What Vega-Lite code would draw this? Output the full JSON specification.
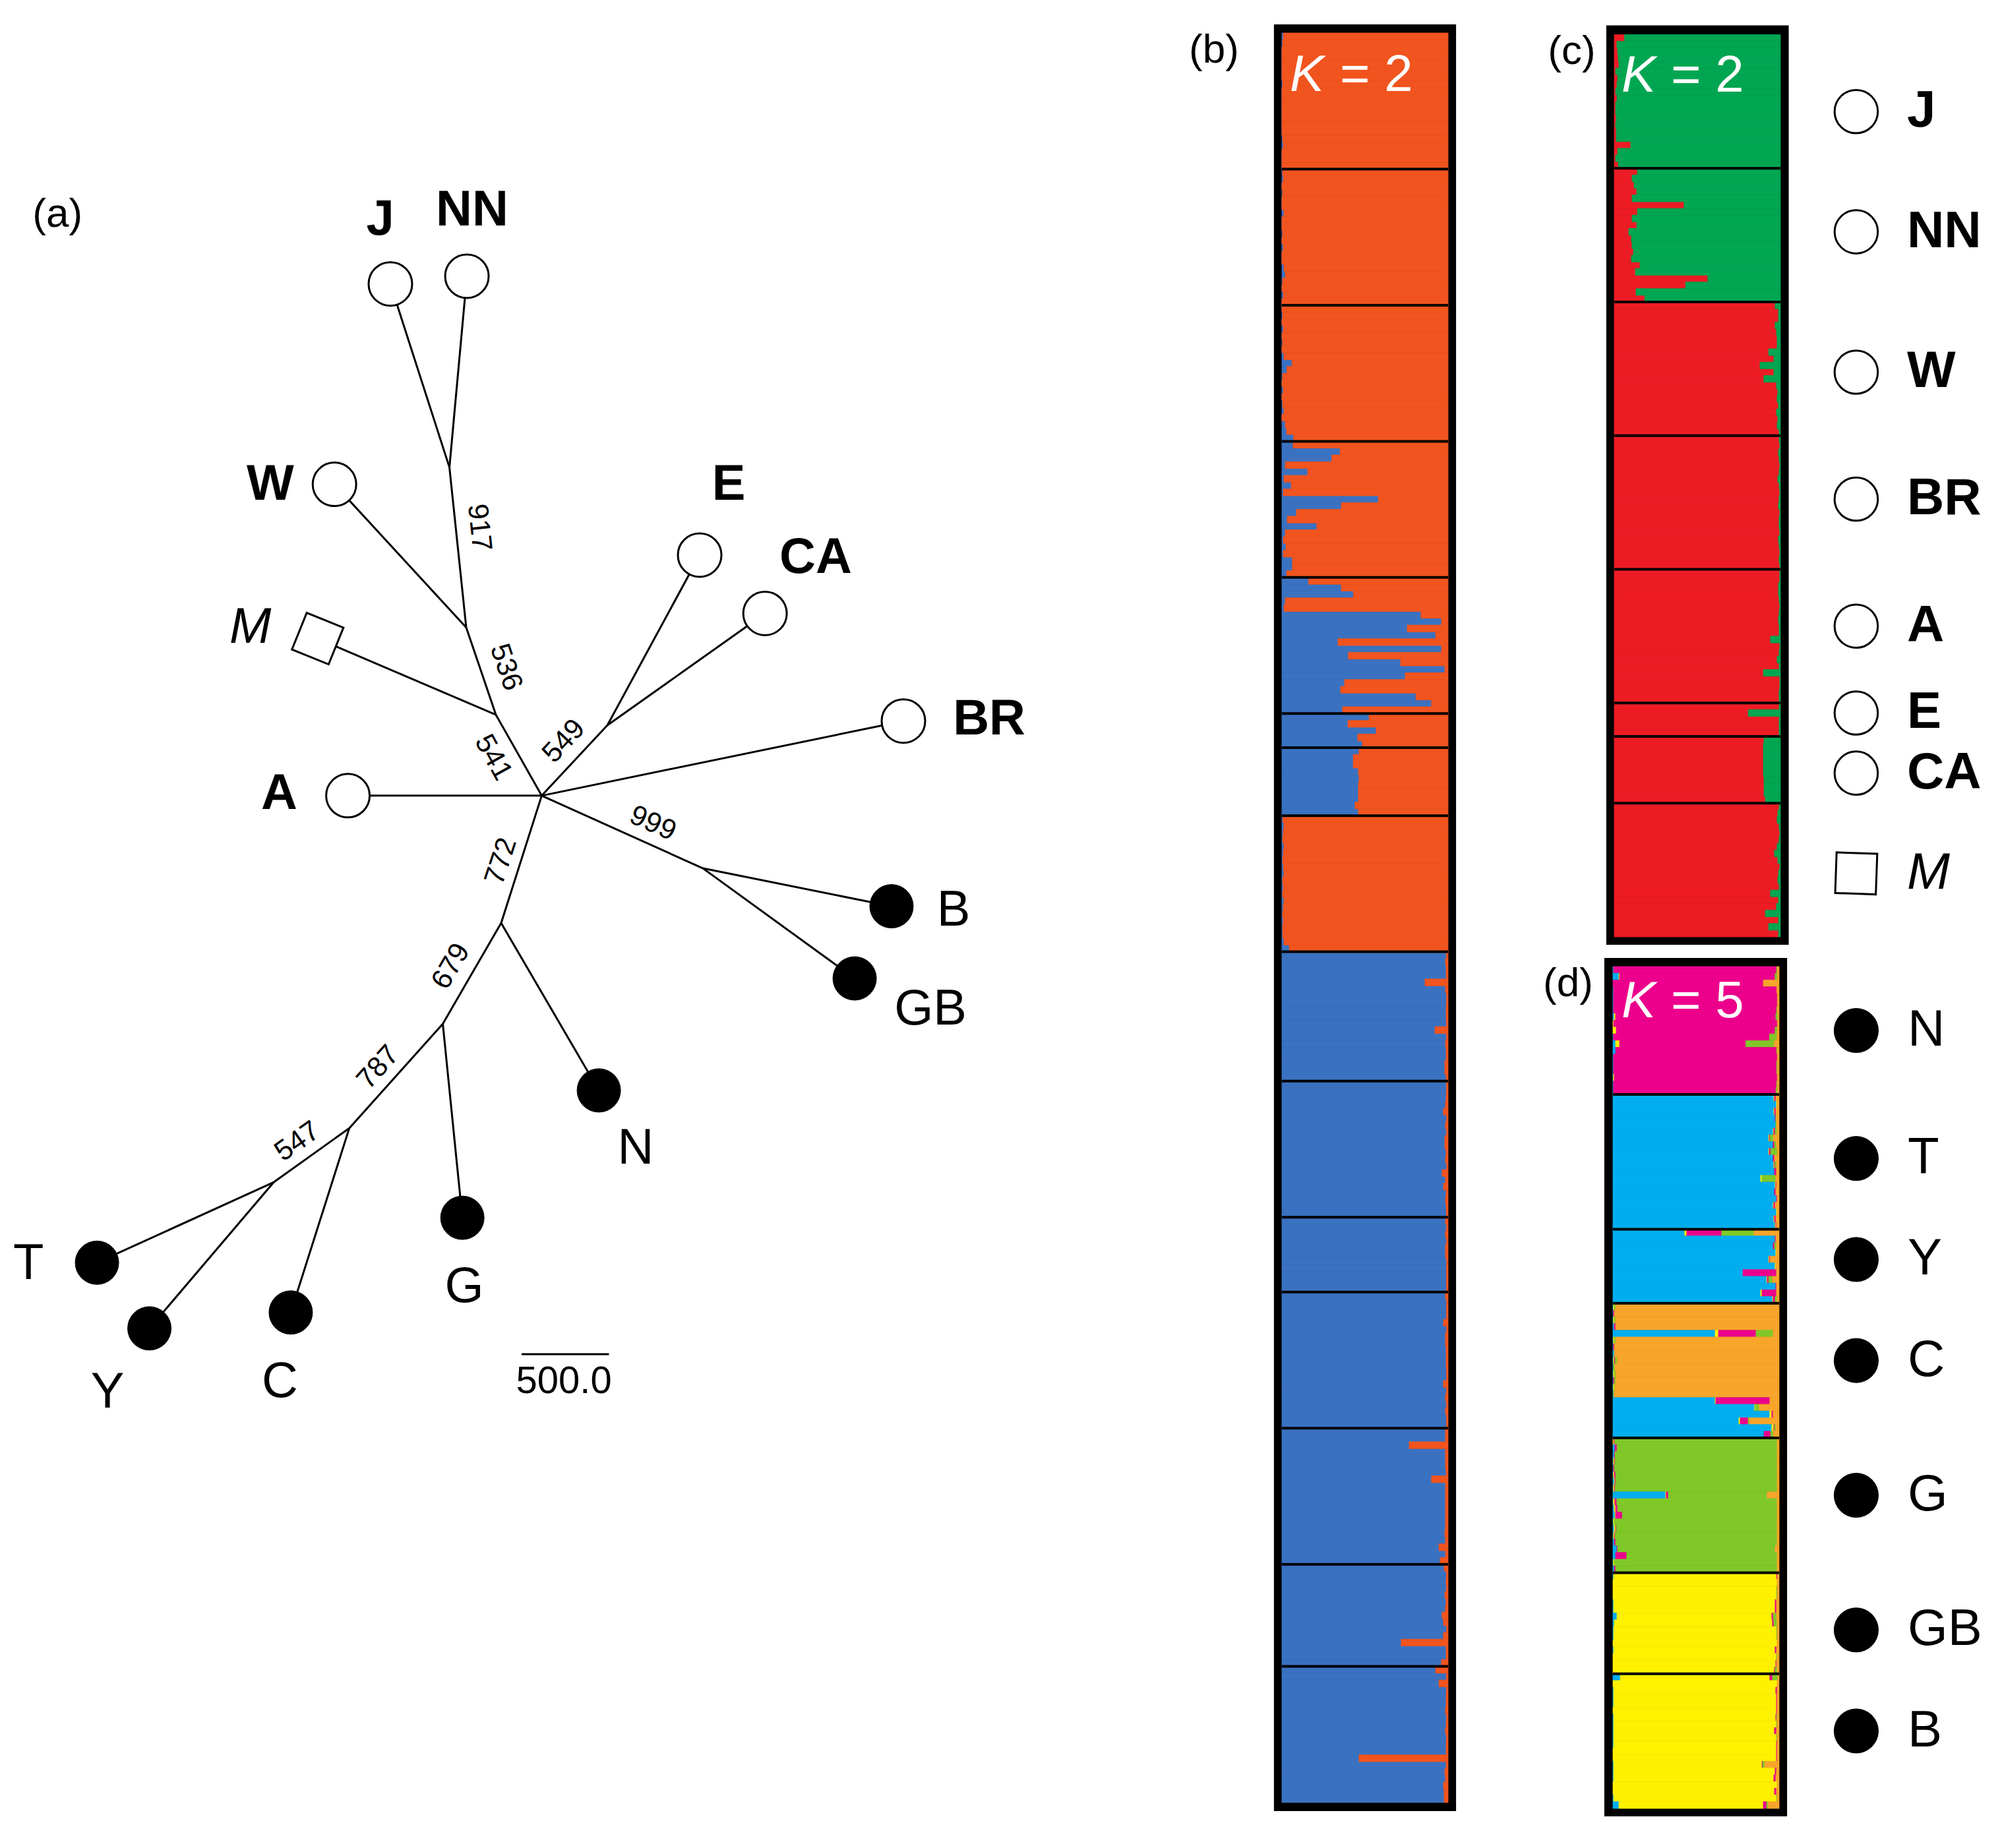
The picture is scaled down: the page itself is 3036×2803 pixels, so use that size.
{
"$schema":"https://vega.github.io/schema/vega-lite/v6.json",
"width":3036,"height":2803,"autosize":{"type":"none"},"padding":0,"background":"white",
"config":{"view":{"stroke":null},"axis":{"disable":true},"legend":{"disable":true},"font":"Liberation Sans"},
"datasets":{
"edges":[
{"u":-866,"v":2929,"u2":-528,"v2":1879},{"u":-428,"v":2973,"u2":-528,"v2":1879},{"u":-528,"v":1879,"u2":-432,"v2":963},{"u":-1186,"v":1782,"u2":-432,"v2":963},
{"u":-432,"v":963,"u2":-262,"v2":463},{"u":-1282,"v":899,"u2":-262,"v2":463},{"u":-262,"v":463,"u2":0,"v2":0},{"u":-1109,"v":0,"u2":0,"v2":0},
{"u":0,"v":0,"u2":376,"v2":403},{"u":904,"v":1377,"u2":376,"v2":403},{"u":1278,"v":1043,"u2":376,"v2":403},{"u":2070,"v":427,"u2":0,"v2":0},
{"u":0,"v":0,"u2":923,"v2":-416},{"u":2002,"v":-633,"u2":923,"v2":-416},{"u":1791,"v":-1046,"u2":923,"v2":-416},{"u":0,"v":0,"u2":-232,"v2":-729},
{"u":-232,"v":-729,"u2":327,"v2":-1687},{"u":-232,"v":-729,"u2":-566,"v2":-1306},{"u":-566,"v":-1306,"u2":-454,"v2":-2416},{"u":-566,"v":-1306,"u2":-1101,"v2":-1903},
{"u":-1101,"v":-1903,"u2":-1436,"v2":-2958},{"u":-1101,"v":-1903,"u2":-1533,"v2":-2212},{"u":-1533,"v":-2212,"u2":-2545,"v2":-2673},{"u":-1533,"v":-2212,"u2":-2245,"v2":-3049}
],
"tips":[
{"pop":"J","u":-866,"v":2929,"clade":"I"},{"pop":"NN","u":-428,"v":2973,"clade":"I"},{"pop":"W","u":-1186,"v":1782,"clade":"I"},{"pop":"M","u":-1282,"v":899,"clade":"out"},
{"pop":"A","u":-1109,"v":0,"clade":"I"},{"pop":"E","u":904,"v":1377,"clade":"I"},{"pop":"CA","u":1278,"v":1043,"clade":"I"},{"pop":"BR","u":2070,"v":427,"clade":"I"},
{"pop":"B","u":2002,"v":-633,"clade":"II"},{"pop":"GB","u":1791,"v":-1046,"clade":"II"},{"pop":"N","u":327,"v":-1687,"clade":"II"},{"pop":"G","u":-454,"v":-2416,"clade":"II"},
{"pop":"C","u":-1436,"v":-2958,"clade":"II"},{"pop":"T","u":-2545,"v":-2673,"clade":"II"},{"pop":"Y","u":-2245,"v":-3049,"clade":"II"}
],
"labels":[
{"pop":"J","u":-924,"v":3297,"clade":"I"},{"pop":"NN","u":-398,"v":3350,"clade":"I"},{"pop":"W","u":-1553,"v":1781,"clade":"I"},{"pop":"E","u":1070,"v":1781,"clade":"I"},
{"pop":"CA","u":1568,"v":1362,"clade":"I"},{"pop":"M","u":-1667,"v":963,"clade":"out"},{"pop":"BR","u":2561,"v":438,"clade":"I"},{"pop":"A","u":-1502,"v":10,"clade":"I"},
{"pop":"B","u":2357,"v":-657,"clade":"II"},{"pop":"GB","u":2225,"v":-1223,"clade":"II"},{"pop":"N","u":538,"v":-2020,"clade":"II"},{"pop":"G","u":-443,"v":-2812,"clade":"II"},
{"pop":"T","u":-2937,"v":-2680,"clade":"II"},{"pop":"Y","u":-2485,"v":-3415,"clade":"II"},{"pop":"C","u":-1498,"v":-3355,"clade":"II"}
],
"boot":[
{"b":"917","u":-358,"v":1535},{"b":"536","u":-205,"v":735},{"b":"541","u":-277,"v":218},{"b":"549","u":127,"v":312},{"b":"999","u":636,"v":-159},
{"b":"772","u":-232,"v":-375},{"b":"679","u":-519,"v":-977},{"b":"787","u":-935,"v":-1555},{"b":"547","u":-1398,"v":-1980}
],
"bsep":[{"at":21},{"at":41},{"at":61},{"at":81},{"at":101},{"at":106},{"at":116},{"at":136},{"at":155},{"at":175},{"at":186},{"at":206},{"at":226},{"at":241}],
"csep":[{"at":21},{"at":41},{"at":61},{"at":81},{"at":101},{"at":106},{"at":116}],
"dsep":[{"at":20},{"at":40},{"at":51},{"at":71},{"at":91},{"at":106}],
"cleg":[{"pop":"J","at":12},{"pop":"NN","at":30},{"pop":"W","at":51},{"pop":"BR","at":70},{"pop":"A","at":89},{"pop":"E","at":102},{"pop":"CA","at":111},{"pop":"M","at":126}],
"dleg":[{"pop":"N","at":10},{"pop":"T","at":29},{"pop":"Y","at":44},{"pop":"C","at":59},{"pop":"G","at":79},{"pop":"GB","at":99},{"pop":"B","at":114}],
"b":[
{"i":1,"q":0.008},{"i":2,"q":0.004},{"i":3,"q":0},{"i":4,"q":0},{"i":5,"q":0},{"i":6,"q":0},{"i":7,"q":0},{"i":8,"q":0.004},{"i":9,"q":0},{"i":10,"q":0},
{"i":11,"q":0},{"i":12,"q":0},{"i":13,"q":0},{"i":14,"q":0},{"i":15,"q":0},{"i":16,"q":0.004},{"i":17,"q":0.008},{"i":18,"q":0},{"i":19,"q":0},{"i":20,"q":0},
{"i":21,"q":0.004},{"i":22,"q":0.008},{"i":23,"q":0},{"i":24,"q":0.004},{"i":25,"q":0},{"i":26,"q":0},{"i":27,"q":0.012},{"i":28,"q":0},{"i":29,"q":0},{"i":30,"q":0.004},
{"i":31,"q":0},{"i":32,"q":0.008},{"i":33,"q":0},{"i":34,"q":0},{"i":35,"q":0.012},{"i":36,"q":0.02},{"i":37,"q":0.004},{"i":38,"q":0},{"i":39,"q":0.008},{"i":40,"q":0},
{"i":41,"q":0},{"i":42,"q":0.004},{"i":43,"q":0},{"i":44,"q":0.008},{"i":45,"q":0},{"i":46,"q":0.004},{"i":47,"q":0},{"i":48,"q":0.012},{"i":49,"q":0.06},{"i":50,"q":0.03},
{"i":51,"q":0.004},{"i":52,"q":0},{"i":53,"q":0.008},{"i":54,"q":0},{"i":55,"q":0.004},{"i":56,"q":0.012},{"i":57,"q":0},{"i":58,"q":0.02},{"i":59,"q":0.028},{"i":60,"q":0.07},
{"i":61,"q":0.067},{"i":62,"q":0.35},{"i":63,"q":0.3},{"i":64,"q":0.02},{"i":65,"q":0.155},{"i":66,"q":0.012},{"i":67,"q":0.056},{"i":68,"q":0.008},{"i":69,"q":0.58},{"i":70,"q":0.357},
{"i":71,"q":0.087},{"i":72,"q":0.032},{"i":73,"q":0.21},{"i":74,"q":0.02},{"i":75,"q":0.008},{"i":76,"q":0.024},{"i":77,"q":0.008},{"i":78,"q":0.063},{"i":79,"q":0.063},{"i":80,"q":0.028},
{"i":81,"q":0.16},{"i":82,"q":0.357},{"i":83,"q":0.43},{"i":84,"q":0.02},{"i":85,"q":0.012},{"i":86,"q":0.837},{"i":87,"q":0.96},{"i":88,"q":0.754},{"i":89,"q":0.925},{"i":90,"q":0.337},
{"i":91,"q":0.96},{"i":92,"q":0.4},{"i":93,"q":0.714},{"i":94,"q":0.98},{"i":95,"q":0.742},{"i":96,"q":0.377},{"i":97,"q":0.353},{"i":98,"q":0.806},{"i":99,"q":0.9},{"i":100,"q":0.365},
{"i":101,"q":0.524},{"i":102,"q":0.397},{"i":103,"q":0.567},{"i":104,"q":0.456},{"i":105,"q":0.484},
{"i":106,"q":0.464},{"i":107,"q":0.429},{"i":108,"q":0.429},{"i":109,"q":0.46},{"i":110,"q":0.464},{"i":111,"q":0.46},{"i":112,"q":0.46},{"i":113,"q":0.46},{"i":114,"q":0.44},{"i":115,"q":0.46},
{"i":116,"q":0.005},{"i":117,"q":0.012},{"i":118,"q":0.008},{"i":119,"q":0.004},{"i":120,"q":0.012},{"i":121,"q":0.008},{"i":122,"q":0.004},{"i":123,"q":0.008},{"i":124,"q":0.012},{"i":125,"q":0.004},
{"i":126,"q":0.008},{"i":127,"q":0.004},{"i":128,"q":0.012},{"i":129,"q":0.008},{"i":130,"q":0.004},{"i":131,"q":0.008},{"i":132,"q":0.004},{"i":133,"q":0.005},{"i":134,"q":0.012},{"i":135,"q":0.044},
{"i":136,"q":0.989},{"i":137,"q":0.984},{"i":138,"q":0.988},{"i":139,"q":0.988},{"i":140,"q":0.861},{"i":141,"q":0.984},{"i":142,"q":0.99},{"i":143,"q":0.99},{"i":144,"q":0.988},{"i":145,"q":0.988},
{"i":146,"q":0.99},{"i":147,"q":0.921},{"i":148,"q":0.99},{"i":149,"q":0.984},{"i":150,"q":0.988},{"i":151,"q":0.988},{"i":152,"q":0.98},{"i":153,"q":0.98},{"i":154,"q":0.988},
{"i":155,"q":0.99},{"i":156,"q":0.99},{"i":157,"q":0.988},{"i":158,"q":0.984},{"i":159,"q":0.972},{"i":160,"q":0.99},{"i":161,"q":0.984},{"i":162,"q":0.99},{"i":163,"q":0.98},{"i":164,"q":0.98},
{"i":165,"q":0.988},{"i":166,"q":0.984},{"i":167,"q":0.99},{"i":168,"q":0.964},{"i":169,"q":0.984},{"i":170,"q":0.972},{"i":171,"q":0.988},{"i":172,"q":0.984},{"i":173,"q":0.988},{"i":174,"q":0.99},
{"i":175,"q":0.984},{"i":176,"q":0.99},{"i":177,"q":0.984},{"i":178,"q":0.99},{"i":179,"q":0.984},{"i":180,"q":0.984},{"i":181,"q":0.99},{"i":182,"q":0.99},{"i":183,"q":0.99},{"i":184,"q":0.99},{"i":185,"q":0.99},
{"i":186,"q":0.984},{"i":187,"q":0.99},{"i":188,"q":0.99},{"i":189,"q":0.99},{"i":190,"q":0.972},{"i":191,"q":0.99},{"i":192,"q":0.984},{"i":193,"q":0.984},{"i":194,"q":0.988},{"i":195,"q":0.988},
{"i":196,"q":0.988},{"i":197,"q":0.99},{"i":198,"q":0.99},{"i":199,"q":0.972},{"i":200,"q":0.99},{"i":201,"q":0.984},{"i":202,"q":0.99},{"i":203,"q":0.984},{"i":204,"q":0.99},{"i":205,"q":0.99},
{"i":206,"q":0.984},{"i":207,"q":0.984},{"i":208,"q":0.766},{"i":209,"q":0.984},{"i":210,"q":0.984},{"i":211,"q":0.984},{"i":212,"q":0.988},{"i":213,"q":0.9},{"i":214,"q":0.984},{"i":215,"q":0.984},
{"i":216,"q":0.984},{"i":217,"q":0.984},{"i":218,"q":0.984},{"i":219,"q":0.984},{"i":220,"q":0.984},{"i":221,"q":0.98},{"i":222,"q":0.984},{"i":223,"q":0.945},{"i":224,"q":0.984},{"i":225,"q":0.952},
{"i":226,"q":0.976},{"i":227,"q":0.99},{"i":228,"q":0.988},{"i":229,"q":0.99},{"i":230,"q":0.98},{"i":231,"q":0.988},{"i":232,"q":0.984},{"i":233,"q":0.964},{"i":234,"q":0.972},{"i":235,"q":0.99},
{"i":236,"q":0.972},{"i":237,"q":0.718},{"i":238,"q":0.988},{"i":239,"q":0.988},{"i":240,"q":0.96},
{"i":241,"q":0.925},{"i":242,"q":0.99},{"i":243,"q":0.945},{"i":244,"q":0.99},{"i":245,"q":0.988},{"i":246,"q":0.988},{"i":247,"q":0.984},{"i":248,"q":0.99},{"i":249,"q":0.988},{"i":250,"q":0.984},
{"i":251,"q":0.99},{"i":252,"q":0.988},{"i":253,"q":0.988},{"i":254,"q":0.464},{"i":255,"q":0.988},{"i":256,"q":0.98},{"i":257,"q":0.984},{"i":258,"q":0.972},{"i":259,"q":0.976},{"i":260,"q":0.976}
],
"c":[
{"i":1,"q":0.062},{"i":2,"q":0.016},{"i":3,"q":0.02},{"i":4,"q":0.024},{"i":5,"q":0.028},{"i":6,"q":0.008},{"i":7,"q":0.02},{"i":8,"q":0.016},{"i":9,"q":0.008},{"i":10,"q":0.016},
{"i":11,"q":0.008},{"i":12,"q":0.008},{"i":13,"q":0.012},{"i":14,"q":0.008},{"i":15,"q":0.012},{"i":16,"q":0.012},{"i":17,"q":0.099},{"i":18,"q":0.02},{"i":19,"q":0.008},{"i":20,"q":0.024},
{"i":21,"q":0.139},{"i":22,"q":0.107},{"i":23,"q":0.119},{"i":24,"q":0.135},{"i":25,"q":0.107},{"i":26,"q":0.42},{"i":27,"q":0.139},{"i":28,"q":0.107},{"i":29,"q":0.135},{"i":30,"q":0.087},
{"i":31,"q":0.103},{"i":32,"q":0.107},{"i":33,"q":0.115},{"i":34,"q":0.103},{"i":35,"q":0.155},{"i":36,"q":0.127},{"i":37,"q":0.563},{"i":38,"q":0.429},{"i":39,"q":0.131},{"i":40,"q":0.183},
{"i":41,"q":0.968},{"i":42,"q":0.988},{"i":43,"q":0.988},{"i":44,"q":0.968},{"i":45,"q":0.976},{"i":46,"q":0.98},{"i":47,"q":0.98},{"i":48,"q":0.929},{"i":49,"q":0.96},{"i":50,"q":0.877},
{"i":51,"q":0.96},{"i":52,"q":0.9},{"i":53,"q":0.976},{"i":54,"q":0.984},{"i":55,"q":0.98},{"i":56,"q":0.988},{"i":57,"q":0.976},{"i":58,"q":0.984},{"i":59,"q":0.98},{"i":60,"q":0.992},
{"i":61,"q":0.992},{"i":62,"q":0.996},{"i":63,"q":0.988},{"i":64,"q":0.992},{"i":65,"q":0.996},{"i":66,"q":0.992},{"i":67,"q":0.984},{"i":68,"q":0.992},{"i":69,"q":0.996},{"i":70,"q":0.992},
{"i":71,"q":0.988},{"i":72,"q":0.996},{"i":73,"q":0.992},{"i":74,"q":0.992},{"i":75,"q":0.996},{"i":76,"q":0.988},{"i":77,"q":0.992},{"i":78,"q":0.996},{"i":79,"q":0.992},{"i":80,"q":0.996},
{"i":81,"q":0.996},{"i":82,"q":0.996},{"i":83,"q":0.988},{"i":84,"q":0.988},{"i":85,"q":0.992},{"i":86,"q":0.996},{"i":87,"q":0.992},{"i":88,"q":0.988},{"i":89,"q":0.992},{"i":90,"q":0.992},
{"i":91,"q":0.94},{"i":92,"q":0.996},{"i":93,"q":0.992},{"i":94,"q":0.98},{"i":95,"q":0.992},{"i":96,"q":0.897},{"i":97,"q":0.996},{"i":98,"q":0.996},{"i":99,"q":0.992},{"i":100,"q":0.992},
{"i":101,"q":0.992},{"i":102,"q":0.806},{"i":103,"q":0.992},{"i":104,"q":0.992},{"i":105,"q":0.992},
{"i":106,"q":0.901},{"i":107,"q":0.897},{"i":108,"q":0.897},{"i":109,"q":0.897},{"i":110,"q":0.897},{"i":111,"q":0.897},{"i":112,"q":0.901},{"i":113,"q":0.901},{"i":114,"q":0.901},{"i":115,"q":0.909},
{"i":116,"q":0.992},{"i":117,"q":0.984},{"i":118,"q":0.98},{"i":119,"q":0.992},{"i":120,"q":0.996},{"i":121,"q":0.992},{"i":122,"q":0.98},{"i":123,"q":0.964},{"i":124,"q":0.984},{"i":125,"q":0.996},
{"i":126,"q":0.988},{"i":127,"q":0.984},{"i":128,"q":0.992},{"i":129,"q":0.94},{"i":130,"q":0.988},{"i":131,"q":0.976},{"i":132,"q":0.909},{"i":133,"q":0.988},{"i":134,"q":0.929},{"i":135,"q":0.988}
],
"d":[
{"i":1,"k1":0.004,"k3":0.981,"k4":0.004,"k5":0.011},{"i":2,"k1":0.036,"k2":0.004,"k3":0.936,"k4":0.013,"k5":0.011},{"i":3,"k3":0.905,"k5":0.095},{"i":4,"k1":0.003,"k3":0.983,"k5":0.014},
{"i":5,"k1":0.003,"k3":0.986,"k5":0.011},{"i":6,"k1":0.003,"k3":0.986,"k5":0.011},{"i":7,"k1":0.003,"k3":0.982,"k4":0.004,"k5":0.011},{"i":8,"k1":0.008,"k2":0.008,"k3":0.964,"k4":0.013,"k5":0.007},
{"i":9,"k2":0.004,"k3":0.985,"k5":0.011},{"i":10,"k2":0.02,"k3":0.956,"k4":0.013,"k5":0.011},{"i":11,"k1":0.003,"k3":0.939,"k4":0.045,"k5":0.013},{"i":12,"k1":0.016,"k2":0.024,"k3":0.76,"k4":0.171,"k5":0.029},
{"i":13,"k1":0.016,"k3":0.969,"k4":0.004,"k5":0.011},{"i":14,"k1":0.003,"k3":0.986,"k5":0.011},{"i":15,"k1":0.003,"k3":0.982,"k4":0.004,"k5":0.011},{"i":16,"k1":0.003,"k3":0.982,"k4":0.004,"k5":0.011},
{"i":17,"k1":0.003,"k2":0.005,"k3":0.981,"k5":0.011},{"i":18,"k1":0.003,"k3":0.982,"k4":0.004,"k5":0.011},{"i":19,"k1":0.003,"k3":0.978,"k4":0.008,"k5":0.011},
{"i":20,"k1":0.968,"k2":0.004,"k3":0.008,"k5":0.02},{"i":21,"k1":0.984,"k2":0.004,"k5":0.012},{"i":22,"k1":0.968,"k2":0.004,"k3":0.008,"k5":0.02},{"i":23,"k1":0.976,"k3":0.004,"k4":0.004,"k5":0.016},
{"i":24,"k1":0.98,"k4":0.004,"k5":0.016},{"i":25,"k1":0.964,"k2":0.004,"k3":0.008,"k4":0.012,"k5":0.012},{"i":26,"k1":0.937,"k2":0.004,"k3":0.004,"k4":0.02,"k5":0.035},{"i":27,"k1":0.964,"k3":0.008,"k4":0.012,"k5":0.016},
{"i":28,"k1":0.937,"k2":0.004,"k3":0.008,"k4":0.04,"k5":0.011},{"i":29,"k1":0.964,"k3":0.008,"k5":0.028},{"i":30,"k1":0.968,"k2":0.004,"k3":0.004,"k4":0.008,"k5":0.016},{"i":31,"k1":0.972,"k3":0.012,"k5":0.016},
{"i":32,"k1":0.889,"k2":0.008,"k4":0.083,"k5":0.02},{"i":33,"k1":0.976,"k2":0.004,"k3":0.004,"k5":0.016},{"i":34,"k1":0.972,"k3":0.008,"k5":0.02},{"i":35,"k1":0.984,"k3":0.004,"k5":0.012},
{"i":36,"k1":0.964,"k2":0.004,"k3":0.008,"k5":0.024},{"i":37,"k1":0.984,"k2":0.004,"k5":0.012},{"i":38,"k1":0.968,"k2":0.004,"k3":0.008,"k5":0.02},{"i":39,"k1":0.976,"k2":0.004,"k3":0.004,"k5":0.016},
{"i":40,"k1":0.432,"k2":0.012,"k3":0.21,"k4":0.194,"k5":0.152},{"i":41,"k1":0.976,"k3":0.004,"k5":0.02},{"i":42,"k1":0.964,"k3":0.008,"k4":0.012,"k5":0.016},{"i":43,"k1":0.98,"k2":0.004,"k5":0.016},
{"i":44,"k1":0.937,"k2":0.004,"k3":0.004,"k5":0.055},{"i":45,"k1":0.976,"k2":0.004,"k5":0.02},{"i":46,"k1":0.782,"k3":0.202,"k5":0.016},{"i":47,"k1":0.925,"k2":0.004,"k3":0.008,"k4":0.024,"k5":0.039},
{"i":48,"k1":0.98,"k3":0.004,"k5":0.016},{"i":49,"k1":0.889,"k2":0.008,"k3":0.087,"k5":0.016},{"i":50,"k1":0.96,"k2":0.004,"k3":0.012,"k4":0.012,"k5":0.012},
{"i":51,"k1":0.003,"k2":0.005,"k4":0.008,"k5":0.984},{"i":52,"k1":0.003,"k3":0.005,"k5":0.992},{"i":53,"k1":0.003,"k2":0.005,"k4":0.008,"k5":0.984},{"i":54,"k1":0.008,"k3":0.008,"k5":0.984},
{"i":55,"k1":0.615,"k2":0.02,"k3":0.226,"k4":0.103,"k5":0.036},{"i":56,"k1":0.003,"k2":0.005,"k4":0.008,"k5":0.984},{"i":57,"k1":0.003,"k3":0.005,"k5":0.992},{"i":58,"k1":0.008,"k5":0.992},
{"i":59,"k1":0.003,"k2":0.005,"k3":0.005,"k4":0.012,"k5":0.975},{"i":60,"k1":0.003,"k4":0.008,"k5":0.989},{"i":61,"k1":0.003,"k2":0.005,"k4":0.008,"k5":0.984},{"i":62,"k1":0.003,"k3":0.005,"k4":0.008,"k5":0.984},
{"i":63,"k1":0.003,"k2":0.005,"k4":0.004,"k5":0.988},{"i":64,"k1":0.003,"k4":0.004,"k5":0.993},{"i":65,"k1":0.615,"k2":0.004,"k3":0.325,"k5":0.056},{"i":66,"k1":0.853,"k2":0.004,"k4":0.024,"k5":0.119},
{"i":67,"k1":0.944,"k2":0.012,"k3":0.008,"k5":0.036},{"i":68,"k1":0.758,"k2":0.008,"k3":0.048,"k4":0.008,"k5":0.178},{"i":69,"k1":0.956,"k2":0.012,"k3":0.004,"k4":0.008,"k5":0.02},{"i":70,"k1":0.909,"k3":0.04,"k4":0.016,"k5":0.035},
{"i":71,"k2":0.005,"k3":0.004,"k4":0.979,"k5":0.012},{"i":72,"k1":0.012,"k3":0.012,"k4":0.964,"k5":0.012},{"i":73,"k1":0.008,"k3":0.004,"k4":0.976,"k5":0.012},{"i":74,"k1":0.003,"k2":0.005,"k3":0.004,"k4":0.976,"k5":0.012},
{"i":75,"k1":0.003,"k3":0.005,"k4":0.98,"k5":0.012},{"i":76,"k1":0.003,"k2":0.005,"k3":0.008,"k4":0.972,"k5":0.012},{"i":77,"k1":0.008,"k2":0.004,"k3":0.004,"k4":0.972,"k5":0.012},{"i":78,"k1":0.003,"k2":0.005,"k3":0.004,"k4":0.976,"k5":0.012},
{"i":79,"k1":0.317,"k2":0.004,"k3":0.012,"k4":0.595,"k5":0.072},{"i":80,"k1":0.003,"k2":0.008,"k3":0.012,"k4":0.965,"k5":0.012},{"i":81,"k1":0.008,"k2":0.008,"k3":0.012,"k4":0.96,"k5":0.012},{"i":82,"k1":0.012,"k2":0.004,"k3":0.04,"k4":0.932,"k5":0.012},
{"i":83,"k1":0.003,"k2":0.005,"k4":0.98,"k5":0.012},{"i":84,"k1":0.008,"k2":0.008,"k3":0.004,"k4":0.968,"k5":0.012},{"i":85,"k1":0.003,"k2":0.005,"k3":0.004,"k4":0.976,"k5":0.012},{"i":86,"k1":0.008,"k3":0.008,"k4":0.972,"k5":0.012},
{"i":87,"k1":0.024,"k3":0.004,"k4":0.948,"k5":0.024},{"i":88,"k1":0.016,"k3":0.067,"k4":0.905,"k5":0.012},{"i":89,"k1":0.003,"k2":0.005,"k4":0.98,"k5":0.012},{"i":90,"k1":0.008,"k3":0.008,"k4":0.972,"k5":0.012},
{"i":91,"k1":0.004,"k2":0.98,"k3":0.004,"k5":0.012},{"i":92,"k2":0.988,"k5":0.012},{"i":93,"k2":0.984,"k4":0.004,"k5":0.012},{"i":94,"k2":0.984,"k4":0.004,"k5":0.012},
{"i":95,"k1":0.004,"k2":0.972,"k3":0.008,"k5":0.016},{"i":96,"k1":0.004,"k2":0.972,"k3":0.008,"k5":0.016},{"i":97,"k1":0.024,"k2":0.932,"k3":0.008,"k4":0.02,"k5":0.016},{"i":98,"k1":0.008,"k2":0.952,"k3":0.008,"k4":0.02,"k5":0.012},
{"i":99,"k1":0.004,"k2":0.98,"k4":0.004,"k5":0.012},{"i":100,"k1":0.004,"k2":0.98,"k4":0.004,"k5":0.012},{"i":101,"k2":0.988,"k5":0.012},{"i":102,"k1":0.004,"k2":0.972,"k3":0.008,"k5":0.016},
{"i":103,"k2":0.984,"k4":0.004,"k5":0.012},{"i":104,"k2":0.98,"k3":0.004,"k5":0.016},{"i":105,"k2":0.972,"k3":0.004,"k4":0.012,"k5":0.012},
{"i":106,"k1":0.044,"k2":0.9,"k3":0.016,"k4":0.032,"k5":0.008},{"i":107,"k2":0.988,"k5":0.012},{"i":108,"k1":0.004,"k2":0.976,"k3":0.008,"k5":0.012},{"i":109,"k1":0.004,"k2":0.98,"k3":0.004,"k5":0.012},
{"i":110,"k1":0.004,"k2":0.98,"k3":0.004,"k5":0.012},{"i":111,"k2":0.984,"k3":0.004,"k5":0.012},{"i":112,"k1":0.004,"k2":0.976,"k3":0.004,"k4":0.004,"k5":0.012},{"i":113,"k1":0.004,"k2":0.98,"k4":0.004,"k5":0.012},
{"i":114,"k1":0.004,"k2":0.968,"k3":0.012,"k5":0.016},{"i":115,"k1":0.004,"k2":0.98,"k4":0.004,"k5":0.012},{"i":116,"k1":0.004,"k2":0.98,"k3":0.004,"k5":0.012},{"i":117,"k2":0.984,"k3":0.004,"k5":0.012},
{"i":118,"k2":0.984,"k3":0.004,"k5":0.012},{"i":119,"k1":0.004,"k2":0.893,"k3":0.004,"k4":0.012,"k5":0.087},{"i":120,"k1":0.004,"k2":0.972,"k3":0.008,"k5":0.016},{"i":121,"k1":0.004,"k2":0.964,"k3":0.012,"k5":0.02},
{"i":122,"k2":0.988,"k5":0.012},{"i":123,"k2":0.972,"k3":0.012,"k5":0.016},{"i":124,"k1":0.004,"k2":0.98,"k4":0.004,"k5":0.012},{"i":125,"k1":0.036,"k2":0.869,"k3":0.02,"k4":0.008,"k5":0.067}
]
},
"resolve":{"scale":{"x":"independent","y":"independent","color":"independent","stroke":"independent"}},
"layer":[
{"layer":[
 {"data":{"name":"edges"},"mark":{"type":"rule","stroke":"black","strokeWidth":3},
  "encoding":{"x":{"field":"u","type":"quantitative","scale":{"domain":[-3100,8357],"range":[0,3036],"nice":false,"zero":false}},"x2":{"field":"u2"},
   "y":{"field":"v","type":"quantitative","scale":{"domain":[-6023,4554],"range":[2803,0],"nice":false,"zero":false}},"y2":{"field":"v2"}}},
 {"data":{"values":[{"u":-115,"u2":385,"v":-3197}]},"mark":{"type":"rule","stroke":"black","strokeWidth":3},
  "encoding":{"x":{"field":"u","type":"quantitative","scale":{"domain":[-3100,8357],"range":[0,3036],"nice":false,"zero":false}},"x2":{"field":"u2"},
   "y":{"field":"v","type":"quantitative","scale":{"domain":[-6023,4554],"range":[2803,0],"nice":false,"zero":false}}}},
 {"data":{"name":"tips"},"transform":[{"filter":"datum.clade == 'I'"}],"mark":{"type":"point","shape":"circle","size":4356,"filled":true,"fill":"white","stroke":"black","strokeWidth":3,"opacity":1},
  "encoding":{"x":{"field":"u","type":"quantitative","scale":{"domain":[-3100,8357],"range":[0,3036],"nice":false,"zero":false}},
   "y":{"field":"v","type":"quantitative","scale":{"domain":[-6023,4554],"range":[2803,0],"nice":false,"zero":false}}}},
 {"data":{"name":"tips"},"transform":[{"filter":"datum.clade == 'II'"}],"mark":{"type":"point","shape":"circle","size":4356,"filled":true,"fill":"black","stroke":"black","strokeWidth":1,"opacity":1},
  "encoding":{"x":{"field":"u","type":"quantitative","scale":{"domain":[-3100,8357],"range":[0,3036],"nice":false,"zero":false}},
   "y":{"field":"v","type":"quantitative","scale":{"domain":[-6023,4554],"range":[2803,0],"nice":false,"zero":false}}}},
 {"data":{"name":"tips"},"transform":[{"filter":"datum.clade == 'out'"}],"mark":{"type":"point","shape":"square","size":3600,"angle":22,"filled":true,"fill":"white","stroke":"black","strokeWidth":3,"opacity":1},
  "encoding":{"x":{"field":"u","type":"quantitative","scale":{"domain":[-3100,8357],"range":[0,3036],"nice":false,"zero":false}},
   "y":{"field":"v","type":"quantitative","scale":{"domain":[-6023,4554],"range":[2803,0],"nice":false,"zero":false}}}},
 {"data":{"name":"labels"},"transform":[{"filter":"datum.clade == 'I'"}],"mark":{"type":"text","fontSize":76,"fontWeight":"bold","align":"center","baseline":"middle","fill":"black"},
  "encoding":{"x":{"field":"u","type":"quantitative","scale":{"domain":[-3100,8357],"range":[0,3036],"nice":false,"zero":false}},
   "y":{"field":"v","type":"quantitative","scale":{"domain":[-6023,4554],"range":[2803,0],"nice":false,"zero":false}},"text":{"field":"pop"}}},
 {"data":{"name":"labels"},"transform":[{"filter":"datum.clade == 'II'"}],"mark":{"type":"text","fontSize":76,"align":"center","baseline":"middle","fill":"black"},
  "encoding":{"x":{"field":"u","type":"quantitative","scale":{"domain":[-3100,8357],"range":[0,3036],"nice":false,"zero":false}},
   "y":{"field":"v","type":"quantitative","scale":{"domain":[-6023,4554],"range":[2803,0],"nice":false,"zero":false}},"text":{"field":"pop"}}},
 {"data":{"name":"labels"},"transform":[{"filter":"datum.clade == 'out'"}],"mark":{"type":"text","fontSize":76,"fontStyle":"italic","align":"center","baseline":"middle","fill":"black"},
  "encoding":{"x":{"field":"u","type":"quantitative","scale":{"domain":[-3100,8357],"range":[0,3036],"nice":false,"zero":false}},
   "y":{"field":"v","type":"quantitative","scale":{"domain":[-6023,4554],"range":[2803,0],"nice":false,"zero":false}},"text":{"field":"pop"}}},
 {"data":{"name":"boot"},"transform":[{"filter":"datum.b == '917'"}],"mark":{"type":"text","fontSize":43,"angle":84,"align":"center","baseline":"middle"},
  "encoding":{"x":{"field":"u","type":"quantitative","scale":{"domain":[-3100,8357],"range":[0,3036],"nice":false,"zero":false}},"y":{"field":"v","type":"quantitative","scale":{"domain":[-6023,4554],"range":[2803,0],"nice":false,"zero":false}},"text":{"field":"b"}}},
 {"data":{"name":"boot"},"transform":[{"filter":"datum.b == '536'"}],"mark":{"type":"text","fontSize":43,"angle":71,"align":"center","baseline":"middle"},
  "encoding":{"x":{"field":"u","type":"quantitative","scale":{"domain":[-3100,8357],"range":[0,3036],"nice":false,"zero":false}},"y":{"field":"v","type":"quantitative","scale":{"domain":[-6023,4554],"range":[2803,0],"nice":false,"zero":false}},"text":{"field":"b"}}},
 {"data":{"name":"boot"},"transform":[{"filter":"datum.b == '541'"}],"mark":{"type":"text","fontSize":43,"angle":61,"align":"center","baseline":"middle"},
  "encoding":{"x":{"field":"u","type":"quantitative","scale":{"domain":[-3100,8357],"range":[0,3036],"nice":false,"zero":false}},"y":{"field":"v","type":"quantitative","scale":{"domain":[-6023,4554],"range":[2803,0],"nice":false,"zero":false}},"text":{"field":"b"}}},
 {"data":{"name":"boot"},"transform":[{"filter":"datum.b == '549'"}],"mark":{"type":"text","fontSize":43,"angle":-47,"align":"center","baseline":"middle"},
  "encoding":{"x":{"field":"u","type":"quantitative","scale":{"domain":[-3100,8357],"range":[0,3036],"nice":false,"zero":false}},"y":{"field":"v","type":"quantitative","scale":{"domain":[-6023,4554],"range":[2803,0],"nice":false,"zero":false}},"text":{"field":"b"}}},
 {"data":{"name":"boot"},"transform":[{"filter":"datum.b == '999'"}],"mark":{"type":"text","fontSize":43,"angle":24,"align":"center","baseline":"middle"},
  "encoding":{"x":{"field":"u","type":"quantitative","scale":{"domain":[-3100,8357],"range":[0,3036],"nice":false,"zero":false}},"y":{"field":"v","type":"quantitative","scale":{"domain":[-6023,4554],"range":[2803,0],"nice":false,"zero":false}},"text":{"field":"b"}}},
 {"data":{"name":"boot"},"transform":[{"filter":"datum.b == '772'"}],"mark":{"type":"text","fontSize":43,"angle":-72,"align":"center","baseline":"middle"},
  "encoding":{"x":{"field":"u","type":"quantitative","scale":{"domain":[-3100,8357],"range":[0,3036],"nice":false,"zero":false}},"y":{"field":"v","type":"quantitative","scale":{"domain":[-6023,4554],"range":[2803,0],"nice":false,"zero":false}},"text":{"field":"b"}}},
 {"data":{"name":"boot"},"transform":[{"filter":"datum.b == '679'"}],"mark":{"type":"text","fontSize":43,"angle":-60,"align":"center","baseline":"middle"},
  "encoding":{"x":{"field":"u","type":"quantitative","scale":{"domain":[-3100,8357],"range":[0,3036],"nice":false,"zero":false}},"y":{"field":"v","type":"quantitative","scale":{"domain":[-6023,4554],"range":[2803,0],"nice":false,"zero":false}},"text":{"field":"b"}}},
 {"data":{"name":"boot"},"transform":[{"filter":"datum.b == '787'"}],"mark":{"type":"text","fontSize":43,"angle":-48,"align":"center","baseline":"middle"},
  "encoding":{"x":{"field":"u","type":"quantitative","scale":{"domain":[-3100,8357],"range":[0,3036],"nice":false,"zero":false}},"y":{"field":"v","type":"quantitative","scale":{"domain":[-6023,4554],"range":[2803,0],"nice":false,"zero":false}},"text":{"field":"b"}}},
 {"data":{"name":"boot"},"transform":[{"filter":"datum.b == '547'"}],"mark":{"type":"text","fontSize":43,"angle":-35,"align":"center","baseline":"middle"},
  "encoding":{"x":{"field":"u","type":"quantitative","scale":{"domain":[-3100,8357],"range":[0,3036],"nice":false,"zero":false}},"y":{"field":"v","type":"quantitative","scale":{"domain":[-6023,4554],"range":[2803,0],"nice":false,"zero":false}},"text":{"field":"b"}}},
 {"data":{"values":[{"t":"500.0","u":127,"v":-3355},{"t":"(a)","u":-2771,"v":3328}]},"mark":{"type":"text","fontSize":58,"align":"center","baseline":"middle"},
  "encoding":{"x":{"field":"u","type":"quantitative","scale":{"domain":[-3100,8357],"range":[0,3036],"nice":false,"zero":false}},"y":{"field":"v","type":"quantitative","scale":{"domain":[-6023,4554],"range":[2803,0],"nice":false,"zero":false}},"text":{"field":"t"},
   "size":{"condition":{"test":"datum.t == '(a)'","value":62},"value":58}}}
]},
{"layer":[
 {"data":{"values":[{"top":1,"bot":260}]},"mark":{"type":"rect","fill":"black","yOffset":-13,"y2Offset":13},
  "encoding":{"x":{"datum":-0.048,"type":"quantitative","scale":{"domain":[0,1],"range":[1944,2196],"nice":false,"zero":false}},"x2":{"datum":1.048},
   "y":{"field":"top","type":"ordinal","bandPosition":0,"scale":{"type":"band","range":[50,2734],"paddingInner":0,"paddingOuter":0}},"y2":{"field":"bot","bandPosition":1}}},
 {"data":{"name":"b"},"mark":{"type":"bar","fill":"#3A72C1","stroke":"#3A72C1","strokeWidth":0.8},
  "encoding":{"x":{"field":"q","type":"quantitative","scale":{"domain":[0,1],"range":[1944,2196],"nice":false,"zero":false}},
   "y":{"field":"i","type":"ordinal","scale":{"type":"band","range":[50,2734],"paddingInner":0,"paddingOuter":0}}}},
 {"data":{"name":"b"},"mark":{"type":"bar","fill":"#F1541E","stroke":"#F1541E","strokeWidth":0.8},
  "encoding":{"x":{"field":"q","type":"quantitative","scale":{"domain":[0,1],"range":[1944,2196],"nice":false,"zero":false}},"x2":{"datum":1},
   "y":{"field":"i","type":"ordinal","scale":{"type":"band","range":[50,2734],"paddingInner":0,"paddingOuter":0}}}},
 {"data":{"name":"bsep"},"mark":{"type":"rule","stroke":"black","strokeWidth":4},
  "encoding":{"x":{"datum":0,"type":"quantitative","scale":{"domain":[0,1],"range":[1944,2196],"nice":false,"zero":false}},"x2":{"datum":1},
   "y":{"field":"at","type":"ordinal","bandPosition":0,"scale":{"type":"band","range":[50,2734],"paddingInner":0,"paddingOuter":0}}}},
 {"data":{"values":[{"at":9}]},"mark":{"type":"text","text":"K","fontStyle":"italic","fontSize":78,"fill":"white","align":"left","baseline":"alphabetic"},
  "encoding":{"x":{"datum":0.048,"type":"quantitative","scale":{"domain":[0,1],"range":[1944,2196],"nice":false,"zero":false}},
   "y":{"field":"at","type":"ordinal","bandPosition":0.5,"scale":{"type":"band","range":[50,2734],"paddingInner":0,"paddingOuter":0}}}},
 {"data":{"values":[{"at":9}]},"mark":{"type":"text","text":"= 2","fontSize":78,"fill":"white","align":"left","baseline":"alphabetic"},
  "encoding":{"x":{"datum":0.349,"type":"quantitative","scale":{"domain":[0,1],"range":[1944,2196],"nice":false,"zero":false}},
   "y":{"field":"at","type":"ordinal","bandPosition":0.5,"scale":{"type":"band","range":[50,2734],"paddingInner":0,"paddingOuter":0}}}},
 {"data":{"values":[{"at":3}]},"mark":{"type":"text","text":"(b)","fontSize":62,"fill":"black","align":"center","baseline":"middle"},
  "encoding":{"x":{"datum":-0.409,"type":"quantitative","scale":{"domain":[0,1],"range":[1944,2196],"nice":false,"zero":false}},
   "y":{"field":"at","type":"ordinal","bandPosition":0.5,"scale":{"type":"band","range":[50,2734],"paddingInner":0,"paddingOuter":0}}}}
]},
{"layer":[
 {"data":{"values":[{"top":1,"bot":135}]},"mark":{"type":"rect","fill":"black","yOffset":-14,"y2Offset":12},
  "encoding":{"x":{"datum":-0.048,"type":"quantitative","scale":{"domain":[0,1],"range":[2448,2700],"nice":false,"zero":false}},"x2":{"datum":1.05},
   "y":{"field":"top","type":"ordinal","bandPosition":0,"scale":{"type":"band","range":[52.6,1421],"paddingInner":0,"paddingOuter":0}},"y2":{"field":"bot","bandPosition":1}}},
 {"data":{"name":"c"},"mark":{"type":"bar","fill":"#ED1C24","stroke":"#ED1C24","strokeWidth":0.8},
  "encoding":{"x":{"field":"q","type":"quantitative","scale":{"domain":[0,1],"range":[2448,2700],"nice":false,"zero":false}},
   "y":{"field":"i","type":"ordinal","scale":{"type":"band","range":[52.6,1421],"paddingInner":0,"paddingOuter":0}}}},
 {"data":{"name":"c"},"mark":{"type":"bar","fill":"#00A651","stroke":"#00A651","strokeWidth":0.8},
  "encoding":{"x":{"field":"q","type":"quantitative","scale":{"domain":[0,1],"range":[2448,2700],"nice":false,"zero":false}},"x2":{"datum":1},
   "y":{"field":"i","type":"ordinal","scale":{"type":"band","range":[52.6,1421],"paddingInner":0,"paddingOuter":0}}}},
 {"data":{"name":"csep"},"mark":{"type":"rule","stroke":"black","strokeWidth":4},
  "encoding":{"x":{"datum":0,"type":"quantitative","scale":{"domain":[0,1],"range":[2448,2700],"nice":false,"zero":false}},"x2":{"datum":1},
   "y":{"field":"at","type":"ordinal","bandPosition":0,"scale":{"type":"band","range":[52.6,1421],"paddingInner":0,"paddingOuter":0}}}},
 {"data":{"values":[{"at":9}]},"mark":{"type":"text","text":"K","fontStyle":"italic","fontSize":78,"fill":"white","align":"left","baseline":"alphabetic"},
  "encoding":{"x":{"datum":0.044,"type":"quantitative","scale":{"domain":[0,1],"range":[2448,2700],"nice":false,"zero":false}},
   "y":{"field":"at","type":"ordinal","bandPosition":0.5,"scale":{"type":"band","range":[52.6,1421],"paddingInner":0,"paddingOuter":0}}}},
 {"data":{"values":[{"at":9}]},"mark":{"type":"text","text":"= 2","fontSize":78,"fill":"white","align":"left","baseline":"alphabetic"},
  "encoding":{"x":{"datum":0.341,"type":"quantitative","scale":{"domain":[0,1],"range":[2448,2700],"nice":false,"zero":false}},
   "y":{"field":"at","type":"ordinal","bandPosition":0.5,"scale":{"type":"band","range":[52.6,1421],"paddingInner":0,"paddingOuter":0}}}},
 {"data":{"values":[{"at":3}]},"mark":{"type":"text","text":"(c)","fontSize":62,"fill":"black","align":"center","baseline":"middle"},
  "encoding":{"x":{"datum":-0.256,"type":"quantitative","scale":{"domain":[0,1],"range":[2448,2700],"nice":false,"zero":false}},
   "y":{"field":"at","type":"ordinal","bandPosition":0.5,"scale":{"type":"band","range":[52.6,1421],"paddingInner":0,"paddingOuter":0}}}},
 {"data":{"name":"cleg"},"transform":[{"filter":"datum.pop != 'M'"}],"mark":{"type":"point","shape":"circle","size":4300,"filled":true,"fill":"white","stroke":"black","strokeWidth":3,"opacity":1},
  "encoding":{"x":{"datum":1.456,"type":"quantitative","scale":{"domain":[0,1],"range":[2448,2700],"nice":false,"zero":false}},
   "y":{"field":"at","type":"ordinal","bandPosition":0.5,"scale":{"type":"band","range":[52.6,1421],"paddingInner":0,"paddingOuter":0}}}},
 {"data":{"name":"cleg"},"transform":[{"filter":"datum.pop == 'M'"}],"mark":{"type":"point","shape":"square","size":3800,"angle":2,"filled":true,"fill":"white","stroke":"black","strokeWidth":3,"opacity":1},
  "encoding":{"x":{"datum":1.456,"type":"quantitative","scale":{"domain":[0,1],"range":[2448,2700],"nice":false,"zero":false}},
   "y":{"field":"at","type":"ordinal","bandPosition":0.5,"scale":{"type":"band","range":[52.6,1421],"paddingInner":0,"paddingOuter":0}}}},
 {"data":{"name":"cleg"},"transform":[{"filter":"datum.pop != 'M'"}],"mark":{"type":"text","fontSize":78,"fontWeight":"bold","fill":"black","align":"left","baseline":"middle"},
  "encoding":{"x":{"datum":1.762,"type":"quantitative","scale":{"domain":[0,1],"range":[2448,2700],"nice":false,"zero":false}},
   "y":{"field":"at","type":"ordinal","bandPosition":0.5,"scale":{"type":"band","range":[52.6,1421],"paddingInner":0,"paddingOuter":0}},"text":{"field":"pop"}}},
 {"data":{"name":"cleg"},"transform":[{"filter":"datum.pop == 'M'"}],"mark":{"type":"text","fontSize":78,"fontStyle":"italic","fill":"black","align":"left","baseline":"middle"},
  "encoding":{"x":{"datum":1.762,"type":"quantitative","scale":{"domain":[0,1],"range":[2448,2700],"nice":false,"zero":false}},
   "y":{"field":"at","type":"ordinal","bandPosition":0.5,"scale":{"type":"band","range":[52.6,1421],"paddingInner":0,"paddingOuter":0}},"text":{"field":"pop"}}}
]},
{"layer":[
 {"data":{"values":[{"top":1,"bot":125}]},"mark":{"type":"rect","fill":"black","yOffset":-13,"y2Offset":12},
  "encoding":{"x":{"datum":-0.052,"type":"quantitative","scale":{"domain":[0,1],"range":[2446,2698],"nice":false,"zero":false}},"x2":{"datum":1.048},
   "y":{"field":"top","type":"ordinal","bandPosition":0,"scale":{"type":"band","range":[1466,2743],"paddingInner":0,"paddingOuter":0}},"y2":{"field":"bot","bandPosition":1}}},
 {"data":{"name":"d"},"transform":[{"fold":["k1","k2","k3","k4","k5"],"as":["k","v"]},{"filter":"datum.v > 0"}],
  "mark":{"type":"bar","strokeWidth":0.8},
  "encoding":{"x":{"field":"v","type":"quantitative","stack":"zero","scale":{"domain":[0,1],"range":[2446,2698],"nice":false,"zero":false}},
   "y":{"field":"i","type":"ordinal","scale":{"type":"band","range":[1466,2743],"paddingInner":0,"paddingOuter":0}},
   "color":{"field":"k","type":"nominal","scale":{"domain":["k1","k2","k3","k4","k5"],"range":["#00AEEF","#FFF100","#EC008C","#80C828","#F7A52B"]}},
   "stroke":{"field":"k","type":"nominal","scale":{"domain":["k1","k2","k3","k4","k5"],"range":["#00AEEF","#FFF100","#EC008C","#80C828","#F7A52B"]}},
   "order":{"field":"k","type":"ordinal"}}},
 {"data":{"name":"dsep"},"mark":{"type":"rule","stroke":"black","strokeWidth":4},
  "encoding":{"x":{"datum":0,"type":"quantitative","scale":{"domain":[0,1],"range":[2446,2698],"nice":false,"zero":false}},"x2":{"datum":1},
   "y":{"field":"at","type":"ordinal","bandPosition":0,"scale":{"type":"band","range":[1466,2743],"paddingInner":0,"paddingOuter":0}}}},
 {"data":{"values":[{"at":8}]},"mark":{"type":"text","text":"K","fontStyle":"italic","fontSize":78,"fill":"white","align":"left","baseline":"alphabetic"},
  "encoding":{"x":{"datum":0.052,"type":"quantitative","scale":{"domain":[0,1],"range":[2446,2698],"nice":false,"zero":false}},
   "y":{"field":"at","type":"ordinal","bandPosition":0.5,"scale":{"type":"band","range":[1466,2743],"paddingInner":0,"paddingOuter":0}}}},
 {"data":{"values":[{"at":8}]},"mark":{"type":"text","text":"= 5","fontSize":78,"fill":"white","align":"left","baseline":"alphabetic"},
  "encoding":{"x":{"datum":0.349,"type":"quantitative","scale":{"domain":[0,1],"range":[2446,2698],"nice":false,"zero":false}},
   "y":{"field":"at","type":"ordinal","bandPosition":0.5,"scale":{"type":"band","range":[1466,2743],"paddingInner":0,"paddingOuter":0}}}},
 {"data":{"values":[{"at":3}]},"mark":{"type":"text","text":"(d)","fontSize":62,"fill":"black","align":"center","baseline":"middle"},
  "encoding":{"x":{"datum":-0.27,"type":"quantitative","scale":{"domain":[0,1],"range":[2446,2698],"nice":false,"zero":false}},
   "y":{"field":"at","type":"ordinal","bandPosition":0.5,"scale":{"type":"band","range":[1466,2743],"paddingInner":0,"paddingOuter":0}}}},
 {"data":{"name":"dleg"},"mark":{"type":"point","shape":"circle","size":4500,"filled":true,"fill":"black","stroke":"black","strokeWidth":1,"opacity":1},
  "encoding":{"x":{"datum":1.464,"type":"quantitative","scale":{"domain":[0,1],"range":[2446,2698],"nice":false,"zero":false}},
   "y":{"field":"at","type":"ordinal","bandPosition":0.5,"scale":{"type":"band","range":[1466,2743],"paddingInner":0,"paddingOuter":0}}}},
 {"data":{"name":"dleg"},"mark":{"type":"text","fontSize":78,"fill":"black","align":"left","baseline":"middle"},
  "encoding":{"x":{"datum":1.774,"type":"quantitative","scale":{"domain":[0,1],"range":[2446,2698],"nice":false,"zero":false}},
   "y":{"field":"at","type":"ordinal","bandPosition":0.5,"scale":{"type":"band","range":[1466,2743],"paddingInner":0,"paddingOuter":0}},"text":{"field":"pop"}}}
]}
]
}
